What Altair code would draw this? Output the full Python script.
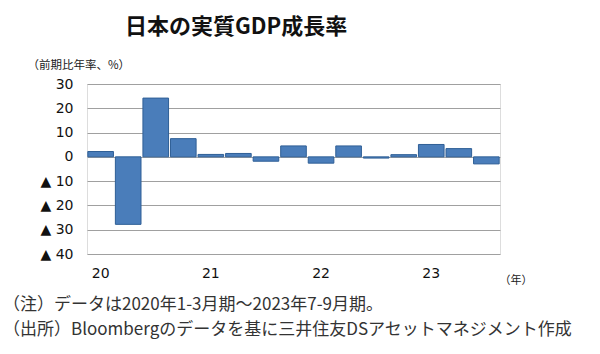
import altair as alt
import pandas as pd

# ---- data ----
quarters = ["2020Q1", "2020Q2", "2020Q3", "2020Q4",
            "2021Q1", "2021Q2", "2021Q3", "2021Q4",
            "2022Q1", "2022Q2", "2022Q3", "2022Q4",
            "2023Q1", "2023Q2", "2023Q3"]
growth = [2.2, -27.8, 24.2, 7.5,
          1.0, 1.4, -1.8, 4.5,
          -2.6, 4.5, -0.5, 0.9,
          5.1, 3.4, -2.9]
y_ticks = [30, 20, 10, 0, -10, -20, -30, -40]

title_text = "日本の実質GDP成長率"
unit_text = "（前期比年率、%）"
year_unit = "（年）"
note_lines = ["（注）データは2020年1-3月期～2023年7-9月期。",
              "（出所）Bloombergのデータを基に三井住友DSアセットマネジメント作成"]

JP = "Noto Sans CJK JP"
NUM = "DejaVu Sans"

df = pd.DataFrame({"q": quarters, "v": growth})

bars = alt.Chart(df).mark_bar(
    color="#4A7DBA", stroke="#2F5F96", strokeWidth=1
).encode(
    x=alt.X("q:N", sort=quarters,
            scale=alt.Scale(paddingInner=0.07, paddingOuter=0.03),
            axis=alt.Axis(
                labelExpr="indexof(datum.value, 'Q1') > 0 ? substring(datum.value, 2, 4) : ''",
                labelAngle=0, labelFont=NUM, labelFontSize=14, labelColor="#111",
                labelPadding=12, ticks=False, domain=False, grid=False,
                title=year_unit, titleFont=JP, titleFontSize=11, titleFontWeight="normal",
                titleColor="#222", titleAngle=0, titleAlign="left", titleBaseline="middle",
                titleX=412, titleY=26)),
    y=alt.Y("v:Q",
            scale=alt.Scale(domain=[-40, 30], nice=False, zero=True),
            axis=alt.Axis(
                values=y_ticks,
                labelExpr="datum.value < 0 ? '▲ ' + abs(datum.value) : '' + datum.value",
                labelFont=NUM, labelFontSize=14, labelColor="#111", labelPadding=14,
                ticks=False, domain=False, grid=True, gridColor="#A0A0A0", gridWidth=1,
                title=unit_text, titleFont=JP, titleFontSize=11.5, titleFontWeight="normal",
                titleColor="#222", titleAngle=0, titleAlign="left", titleBaseline="middle",
                titleX=-60, titleY=-19)),
)

note1 = alt.Chart(pd.DataFrame({"t": [note_lines[0]]})).mark_text(
    align="left", baseline="middle", font=JP, fontSize=17, color="#333"
).encode(text="t:N", x=alt.value(-84), y=alt.value(221))

note2 = alt.Chart(pd.DataFrame({"t": [note_lines[1]]})).mark_text(
    align="left", baseline="middle", font=JP, fontSize=17, color="#333"
).encode(text="t:N", x=alt.value(-84), y=alt.value(246))

chart = alt.layer(bars, note1, note2).properties(
    width=413, height=170,
    title=alt.TitleParams(title_text, anchor="start", frame="group", dx=38, offset=20,
                          font=JP, fontSize=22, fontWeight="bold", color="#111"),
    autosize=alt.AutoSizeParams(type="none"),
    padding={"left": 87, "top": 84, "right": 100, "bottom": 100},
).configure_view(stroke="#555555", strokeWidth=1.2).configure(background="white")

chart.save("out.html", embed_options={"renderer": "svg", "actions": False})
